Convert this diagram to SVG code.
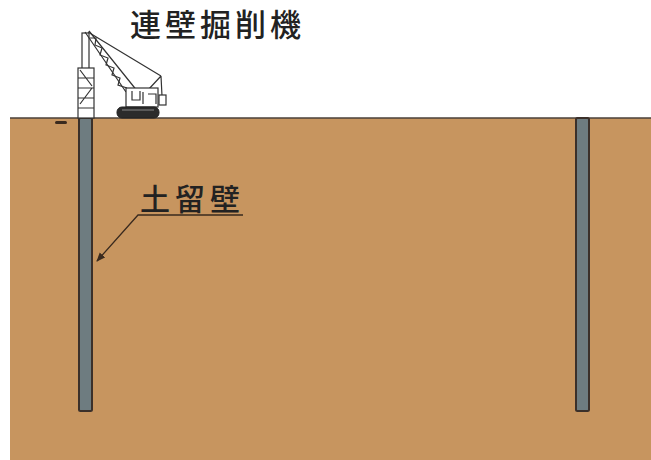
<svg xmlns="http://www.w3.org/2000/svg" width="651" height="460" viewBox="0 0 651 460">
  <defs>
    <style>
      .soil { fill: #c7955f; }
      .ground { stroke: #4a4038; stroke-width: 1.5; fill: none; }
      .wall { fill: #6e7c80; stroke: #3b302a; stroke-width: 2; }
      .label { font-family: "Noto Sans CJK JP", "Noto Sans CJK SC", sans-serif; font-weight: 500; fill: #222; }
      .mach { fill: #fff; stroke: #333; stroke-width: 1.2; }
      .mline { stroke: #333; stroke-width: 1.2; fill: none; }
      .leader { stroke: #3a2a1e; stroke-width: 1.3; fill: none; }
    </style>
    <marker id="arrow" viewBox="0 0 10 10" refX="9" refY="5" markerWidth="7" markerHeight="7" orient="auto-start-reverse">
      <path d="M0,1 L10,5 L0,9 z" fill="#3a2a1e"/>
    </marker>
  </defs>

  <rect width="651" height="460" fill="#fff"/>

  <!-- ground body -->
  <g id="soil">
    <rect class="soil" x="10" y="118" width="641" height="342"/>
    <line class="ground" x1="10" y1="118" x2="651" y2="118"/>
    <rect x="55" y="121" width="12" height="3" rx="1.5" fill="#3a2a1e"/>
  </g>

  <!-- retaining walls -->
  <g id="wall-left">
    <rect class="wall" x="79" y="118" width="13" height="293" rx="1.5"/>
  </g>
  <g id="wall-right">
    <rect class="wall" x="576" y="118" width="13" height="293" rx="1.5"/>
  </g>

  <!-- diaphragm wall excavator -->
  <g id="excavator">
    <!-- leader mast -->
    <rect class="mach" x="82" y="33" width="7" height="36"/>
    <rect class="mach" x="78" y="68" width="16" height="50"/>
    <path class="mline" d="M78,78 H94 M78,88 H94 M78,98 H94 M78,108 H94 M80,70 L92,86 M92,88 L80,104"/>
    <!-- boom lattice -->
    <path class="mline" d="M85,32 L126,92 M89,31 L138,92"/>
    <path class="mline" d="M90,38 L96,38 L95,45 L102,48 L100,55 L108,58 L106,65 L114,68 L112,75 L120,78 L118,85 L127,88"/>
    <!-- hoist cable and jib -->
    <path class="mline" d="M88,32 L161,76 M161,76 L148,90 M161,76 L162,96"/>
    <rect class="mach" x="159" y="95" width="7" height="10"/>
    <!-- upper body -->
    <rect class="mach" x="126" y="88" width="32" height="19"/>
    <path class="mline" d="M132,91 V100 H140 V91 M143,92 V104 M148,94 H156 V104"/>
    <!-- crawler -->
    <rect x="117" y="107" width="42" height="11" rx="5" fill="#2b2b2b" stroke="#222"/>
    <line x1="122" y1="110" x2="154" y2="110" stroke="#888" stroke-width="1"/>
  </g>

  <!-- labels -->
  <g id="label-machine">
    <text class="label" x="130" y="36" font-size="31" letter-spacing="4">連壁掘削機</text>
  </g>
  <g id="label-wall">
    <text class="label" x="140" y="210" font-size="30" letter-spacing="5" font-weight="bold">土留壁</text>
  </g>

  <!-- connectors -->
  <g id="connectors">
    <path class="leader" d="M243,215 H138 L97,261" marker-end="url(#arrow)"/>
  </g>
</svg>
